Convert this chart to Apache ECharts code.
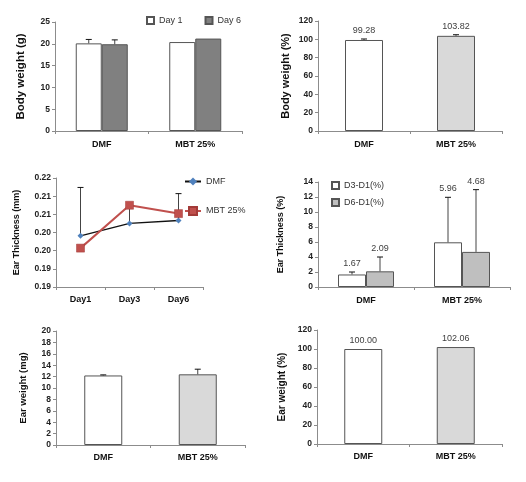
<!DOCTYPE html>
<html><head><meta charset="utf-8">
<script src="https://cdn.jsdelivr.net/npm/echarts@6/dist/echarts.min.js"></script>
<style>html,body{margin:0;padding:0;background:#fff}#c{width:526px;height:482px}</style>
</head><body><div id="c"></div>
<script>
// ---------- data ----------
const groups = ['DMF', 'MBT 25%'];
// Panel 1: body weight (g)
const bwDay1 = [20.1, 20.4];
const bwDay1Err = [0.9, 0];
const bwDay6 = [19.9, 21.2];
const bwDay6Err = [1.0, 0];
// Panel 2: body weight (%)
const bwPct = [99.28, 103.82];
const bwPctErr = [1.1, 1.2];
// Panel 3: ear thickness (mm)
const days = ['Day1', 'Day3', 'Day6'];
const thickDMF = [0.2041, 0.2075, 0.2083];
const thickDMFErr = [0.0133, 0.005, 0.0074];
const thickMBT = [0.2007, 0.2125, 0.2102];
const thickTicks = ['0.19', '0.19', '0.20', '0.20', '0.21', '0.21', '0.22'];
// Panel 4: ear thickness (%)
const etD3 = [1.67, 5.96];
const etD3Err = [0.33, 6.0];
const etD6 = [2.09, 4.68];
const etD6Err = [1.91, 8.3];
// Panel 5: ear weight (mg)
const ewMg = [12.2, 12.4];
const ewMgErr = [0.1, 0.9];
// Panel 6: ear weight (%)
const ewPct = [100.00, 102.06];
const ewPctErr = [0, 0];

// ---------- styling helpers ----------
const FF = '"Liberation Sans", Arial, sans-serif';
const AX = '#8c8c8c';
const grids = [
  {left: 55, top: 22, width: 187, height: 109},
  {left: 318, top: 21, width: 184, height: 110},
  {left: 56, top: 178, width: 147, height: 109},
  {left: 318, top: 182, width: 192, height: 105},
  {left: 56, top: 331, width: 189, height: 114},
  {left: 317, top: 330, width: 185, height: 114}
];
function xAx(i, data, margin) {
  return {
    type: 'category', gridIndex: i, data: data,
    axisLine: {lineStyle: {color: AX, width: 1}},
    axisTick: {show: true, length: 3, lineStyle: {color: AX}},
    axisLabel: {color: '#111', fontFamily: FF, fontWeight: 'bold', fontSize: 9, margin: margin}
  };
}
function yAx(i, min, max, interval, name, nameSize, nameGap, fmt) {
  return {
    type: 'value', gridIndex: i, min: min, max: max, interval: interval,
    name: name, nameLocation: 'middle', nameGap: nameGap,
    nameTextStyle: {color: '#111', fontFamily: FF, fontWeight: 'bold', fontSize: nameSize},
    axisLine: {show: true, lineStyle: {color: AX, width: 1}},
    axisTick: {show: true, length: 3, lineStyle: {color: AX}},
    splitLine: {show: false},
    axisLabel: {color: '#222', fontFamily: FF, fontWeight: 'bold', fontSize: 8.5, margin: 5, formatter: fmt}
  };
}
function errSeries(i, vals, errs, offset, showLabel, cap) {
  return {
    type: 'custom', xAxisIndex: i, yAxisIndex: i, z: 5, silent: true,
    data: vals.map((v, k) => [k, v, errs[k]]),
    renderItem: function (params, api) {
      const ci = api.value(0), v = api.value(1), e = api.value(2);
      const base = api.coord([ci, v]);
      const top = api.coord([ci, v + e]);
      const x = base[0] + offset;
      const ch = [];
      if (e > 0) {
        ch.push({type: 'line', shape: {x1: x, y1: base[1], x2: x, y2: top[1]},
          style: {stroke: '#444', lineWidth: 1}});
        ch.push({type: 'line', shape: {x1: x - (cap || 3), y1: top[1], x2: x + (cap || 3), y2: top[1]},
          style: {stroke: '#111', lineWidth: 1}});
      }
      if (showLabel) {
        ch.push({type: 'text', x: x, y: top[1] - 4,
          style: {text: v.toFixed(2), fill: '#404040', font: '9px ' + FF, align: 'center', verticalAlign: 'bottom'}});
      }
      return {type: 'group', children: ch};
    }
  };
}
const whiteBar = {color: '#ffffff', borderColor: '#555', borderWidth: 1};

const option = {
  animation: false,
  backgroundColor: '#fff',
  grid: grids,
  xAxis: [
    xAx(0, groups, 9), xAx(1, groups, 9), xAx(2, days, 8),
    xAx(3, groups, 9), xAx(4, groups, 8), xAx(5, groups, 8)
  ],
  yAxis: [
    yAx(0, 0, 25, 5, 'Body weight (g)', 11.5, 28),
    yAx(1, 0, 120, 20, 'Body weight (%)', 11, 27),
    yAx(2, 0.19, 0.22, 0.005, 'Ear Thickness (mm)', 9, 35,
      v => thickTicks[Math.round((v - 0.19) / 0.005)]),
    yAx(3, 0, 14, 2, 'Ear Thickness (%)', 9, 33),
    yAx(4, 0, 20, 2, 'Ear weight (mg)', 9.5, 28),
    yAx(5, 0, 120, 20, 'Ear weight (%)', 10, 30)
  ],
  legend: [
    {data: ['Day 1', 'Day 6'], icon: 'rect', left: 146, top: 16, padding: 0, itemWidth: 7, itemHeight: 7, itemGap: 22,
      textStyle: {fontFamily: FF, fontSize: 9, color: '#333'}},
    {data: ['DMF', 'MBT 25%'], orient: 'vertical', left: 184, top: 177, padding: 0, itemWidth: 16, itemHeight: 10, itemGap: 20,
      textStyle: {fontFamily: FF, fontSize: 9, color: '#333'}},
    {data: ['D3-D1(%)', 'D6-D1(%)'], icon: 'rect', orient: 'vertical', left: 331, top: 181, padding: 0, itemWidth: 7, itemHeight: 7, itemGap: 8,
      textStyle: {fontFamily: FF, fontSize: 9, color: '#333'}}
  ],
  series: [
    // Panel 1
    {name: 'Day 1', type: 'bar', xAxisIndex: 0, yAxisIndex: 0, data: bwDay1, barWidth: 26, barGap: '0%', itemStyle: whiteBar},
    {name: 'Day 6', type: 'bar', xAxisIndex: 0, yAxisIndex: 0, data: bwDay6, barWidth: 26, barGap: '0%',
      itemStyle: {color: '#808080', borderColor: '#555', borderWidth: 1}},
    errSeries(0, bwDay1, bwDay1Err, -13, false),
    errSeries(0, bwDay6, bwDay6Err, 13, false),
    // Panel 2
    {name: 'bwPct', type: 'bar', xAxisIndex: 1, yAxisIndex: 1, barWidth: 38,
      data: bwPct.map((v, k) => ({value: v, itemStyle: k ? {color: '#d9d9d9', borderColor: '#555', borderWidth: 1} : whiteBar}))},
    errSeries(1, bwPct, bwPctErr, 0, true),
    // Panel 3
    errSeries(2, thickDMF, thickDMFErr, 0, false),
    {name: 'DMF', type: 'line', xAxisIndex: 2, yAxisIndex: 2, data: thickDMF, z: 6,
      symbol: 'diamond', symbolSize: 6, lineStyle: {color: '#111', width: 1.3},
      itemStyle: {color: '#4f81bd'}},
    {name: 'MBT 25%', type: 'line', xAxisIndex: 2, yAxisIndex: 2, data: thickMBT, z: 7,
      symbol: 'rect', symbolSize: 8, lineStyle: {color: '#c0504d', width: 2},
      itemStyle: {color: '#c0504d', borderColor: '#a33b38', borderWidth: 0.5}},
    // Panel 4
    {name: 'D3-D1(%)', type: 'bar', xAxisIndex: 3, yAxisIndex: 3, data: etD3, barWidth: 28, barGap: '0%', itemStyle: whiteBar},
    {name: 'D6-D1(%)', type: 'bar', xAxisIndex: 3, yAxisIndex: 3, data: etD6, barWidth: 28, barGap: '0%',
      itemStyle: {color: '#bfbfbf', borderColor: '#555', borderWidth: 1}},
    errSeries(3, etD3, etD3Err, -14, true),
    errSeries(3, etD6, etD6Err, 14, true),
    // Panel 5
    {name: 'ewMg', type: 'bar', xAxisIndex: 4, yAxisIndex: 4, barWidth: 38,
      data: ewMg.map((v, k) => ({value: v, itemStyle: k ? {color: '#d9d9d9', borderColor: '#555', borderWidth: 1} : whiteBar}))},
    errSeries(4, ewMg, ewMgErr, 0, false),
    // Panel 6
    {name: 'ewPct', type: 'bar', xAxisIndex: 5, yAxisIndex: 5, barWidth: 38,
      data: ewPct.map((v, k) => ({value: v, itemStyle: k ? {color: '#d9d9d9', borderColor: '#555', borderWidth: 1} : whiteBar}))},
    errSeries(5, ewPct, ewPctErr, 0, true)
  ]
};
const chart = echarts.init(document.getElementById('c'), null, {renderer: 'canvas'});
chart.setOption(option);
</script>
</body></html>
